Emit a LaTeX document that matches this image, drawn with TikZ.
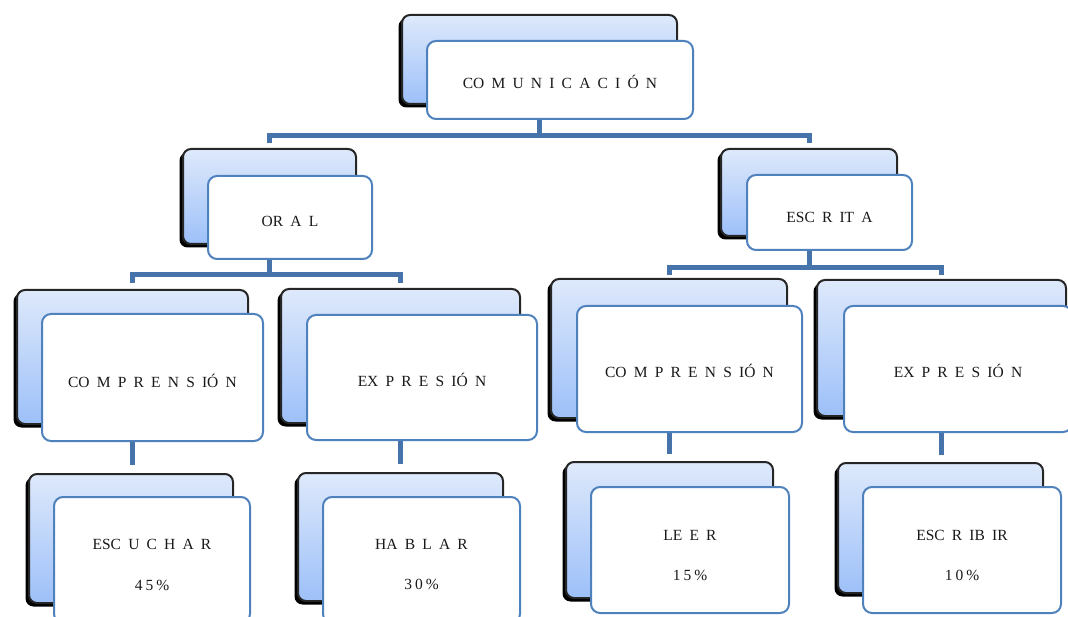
\documentclass[tikz,border=0pt]{standalone}
\usepackage{fontspec}
\setmainfont{Liberation Serif}
\usetikzlibrary{shadows,calc,backgrounds}
\definecolor{barblue}{RGB}{70,115,170}
\definecolor{edgeblue}{RGB}{79,129,189}
\definecolor{gradtop}{RGB}{222,233,251}
\definecolor{gradbot}{RGB}{157,192,249}
\newlength{\widesp}
\setlength{\widesp}{7.2pt}
\newcommand{\wideset}{\spaceskip=\widesp\relax}
\begin{document}
\begin{tikzpicture}[x=1pt,y=-1pt,
  backbox/.style={draw=black!85, line width=2pt, rounded corners=8pt,
    top color=gradtop, bottom color=gradbot, inner sep=0pt, outer sep=0pt,
    drop shadow={shadow xshift=-3.5pt, shadow yshift=-3.5pt, opacity=1, fill=black}},
  frontbox/.style={draw=edgeblue, line width=2pt, fill=white, rounded corners=9pt,
    inner sep=0pt, outer sep=0pt},
  conn/.style={draw=barblue, line width=5pt},
  txt/.style={font=\fontsize{15.5}{18}\selectfont, text=black!90,
    inner sep=0pt, text height=10.3pt, text depth=0pt,
    execute at begin node=\wideset}
]
\useasboundingbox (0,0) rectangle (1068,617);
\clip (0,0) rectangle (1068,617);
% back boxes
\node[backbox, minimum width=275pt, minimum height=89pt]  (b1)  at (539.5,59.5) {};
\node[backbox, minimum width=173pt, minimum height=95pt]  (b2)  at (269.5,196.5) {};
\node[backbox, minimum width=176pt, minimum height=87pt]  (b3)  at (809,192.5) {};
\node[backbox, minimum width=231pt, minimum height=134pt] (b4)  at (132.5,357) {};
\node[backbox, minimum width=239pt, minimum height=134pt] (b5)  at (400.5,356) {};
\node[backbox, minimum width=236pt, minimum height=139pt] (b6)  at (669,348.5) {};
\node[backbox, minimum width=249pt, minimum height=136pt] (b7)  at (941.5,348) {};
\node[backbox, minimum width=204pt, minimum height=129pt] (b8)  at (131,538.5) {};
\node[backbox, minimum width=205pt, minimum height=128pt] (b9)  at (400.5,537) {};
\node[backbox, minimum width=207pt, minimum height=136pt] (b10) at (669.5,530) {};
\node[backbox, minimum width=205pt, minimum height=130pt] (b11) at (940.5,528) {};
% front boxes
\node[frontbox, minimum width=266pt, minimum height=78pt]  (f1)  at (560,80) {};
\node[frontbox, minimum width=164pt, minimum height=83pt]  (f2)  at (290,217.5) {};
\node[frontbox, minimum width=165pt, minimum height=75pt]  (f3)  at (829.5,212.5) {};
\node[frontbox, minimum width=221pt, minimum height=127pt] (f4)  at (152.5,377.5) {};
\node[frontbox, minimum width=230pt, minimum height=125pt] (f5)  at (422,377.5) {};
\node[frontbox, minimum width=225pt, minimum height=126pt] (f6)  at (689.5,369) {};
\node[frontbox, minimum width=228pt, minimum height=126pt] (f7)  at (958,369) {};
\node[frontbox, minimum width=196pt, minimum height=126pt] (f8)  at (152,560) {};
\node[frontbox, minimum width=197pt, minimum height=126pt] (f9)  at (421.5,560) {};
\node[frontbox, minimum width=198pt, minimum height=126pt] (f10) at (690,550) {};
\node[frontbox, minimum width=198pt, minimum height=126pt] (f11) at (962,550) {};
% texts
\node[txt] (t1)  at ($(f1.center)+(0,3)$)  {CO M U N I C A C I Ó N};
\node[txt] (t2)  at ($(f2.center)+(0,3.5)$) {OR A L};
\node[txt] (t3)  at ($(f3.center)+(0,4.5)$) {ESC R IT A};
\node[txt] (t4)  at ($(f4.center)+(0,4.5)$) {CO M P R E N S IÓ N};
\node[txt] (t5)  at ($(f5.center)+(0,4)$)   {EX P R E S IÓ N};
\node[txt] (t6)  at ($(f6.center)+(0,3)$)   {CO M P R E N S IÓ N};
\node[txt] (t7)  at ($(f7.center)+(0,3)$)   {EX P R E S IÓ N};
\node[txt] (t8)  at ($(f8.center)+(0,-16)$)  {ESC U C H A R};
\node[txt] (p8)  at ($(f8.center)+(0,25)$)   {4\kern3pt5\kern3pt\%};
\node[txt] (t9)  at ($(f9.center)+(0,-16)$)  {HA B L A R};
\node[txt] (p9)  at ($(f9.center)+(0,24)$)   {3\kern3pt0\kern3pt\%};
\node[txt] (t10) at ($(f10.center)+(0,-15)$) {LE E R};
\node[txt] (p10) at ($(f10.center)+(0,25)$)  {1\kern3pt5\kern3pt\%};
\node[txt] (t11) at ($(f11.center)+(0,-15)$) {ESC R IB IR};
\node[txt] (p11) at ($(f11.center)+(0,25)$)  {1\kern3pt0\kern3pt\%};
% connectors
\begin{scope}[on background layer]
\draw[conn] (b1.south) -- ++(0,31);
\draw[conn] ($(b2.north)+(0,-6)$) -- ($(b2.north)+(0,-13)$) -| ($(b3.north)+(0,-6)$);
\draw[conn] (b2.south) -- ++(0,30);
\draw[conn] ($(b4.north)+(0,-7)$) -- ($(b4.north)+(0,-15)$) -| ($(b5.north)+(0,-6)$);
\draw[conn] (b3.south) -- ++(0,31);
\draw[conn] ($(b6.north)+(0,-4)$) -- ($(b6.north)+(0,-11)$) -| ($(b7.north)+(0,-5)$);
\draw[conn, shorten >=9pt] (b4.south) -- (b4.south |- b8.north);
\draw[conn, shorten >=9pt] (b5.south) -- (b5.south |- b9.north);
\draw[conn, shorten >=8pt] (b6.south) -- (b6.south |- b10.north);
\draw[conn, shorten >=8pt] (b7.south) -- (b7.south |- b11.north);
\end{scope}
\end{tikzpicture}
\end{document}
